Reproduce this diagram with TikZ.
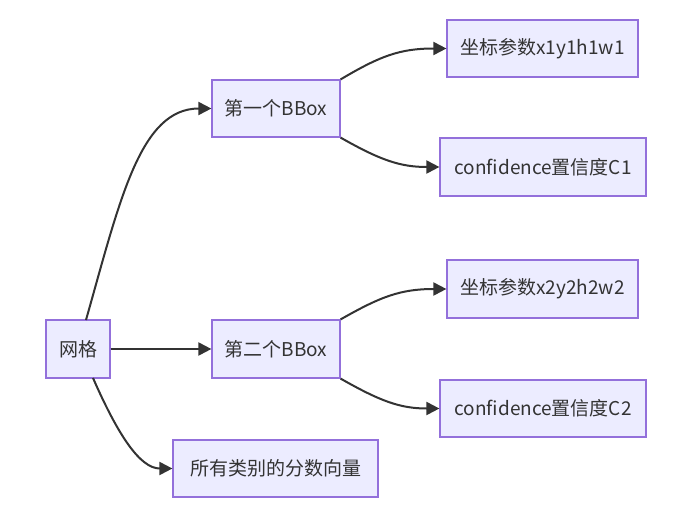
\documentclass[tikz,border=0pt]{standalone}
\usepackage{fontspec}
\setmainfont{Noto Sans CJK SC}
\usetikzlibrary{arrows.meta}
\definecolor{boxfill}{HTML}{ECECFF}
\definecolor{boxline}{HTML}{9370DB}
\definecolor{edgecol}{HTML}{333333}
\begin{document}
\begin{tikzpicture}[x=1pt,y=-1pt,
  mbox/.style={draw=boxline,fill=boxfill,line width=1.2pt,inner sep=0pt,
    font=\fontsize{19}{22}\selectfont,text=edgecol},
  edge/.style={draw=edgecol,line width=2pt,-{Triangle[length=13pt,width=13pt]}}]
\useasboundingbox (0,0) rectangle (685,522);
\node[mbox,minimum width=64pt,minimum height=58pt] (grid) at (78,349) {网格};
\node[mbox,minimum width=128pt,minimum height=57pt] (b1) at (276,108.5) {第一个BBox};
\node[mbox,minimum width=128pt,minimum height=58pt] (b2) at (276,349) {第二个BBox};
\node[mbox,minimum width=191pt,minimum height=57pt] (c1) at (542.5,48.5) {坐标参数x1y1h1w1};
\node[mbox,minimum width=206pt,minimum height=58pt] (f1) at (543,167) {confidence置信度C1};
\node[mbox,minimum width=191pt,minimum height=58pt] (c2) at (542.5,289) {坐标参数x2y2h2w2};
\node[mbox,minimum width=206pt,minimum height=57pt] (f2) at (543,408.5) {confidence置信度C2};
\node[mbox,minimum width=205pt,minimum height=57pt] (cls) at (275.5,468.5) {所有类别的分数向量};
\coordinate (gt) at (86,320);
\coordinate (gb) at (93,378);
\draw[edge] (gt) .. controls (120,200) and (140,108.5) .. (b1.west);
\draw[edge] (grid.east) -- (b2.west);
\draw[edge] (gb) .. controls (118,435) and (140,468.5) .. (cls.west);
\draw[edge] (b1.north east) .. controls (380,56) and (400,48.5) .. (c1.west);
\draw[edge] (b1.south east) .. controls (380,160) and (400,167) .. (f1.west);
\draw[edge] (b2.north east) .. controls (380,297) and (400,289) .. (c2.west);
\draw[edge] (b2.south east) .. controls (380,401) and (400,408.5) .. (f2.west);
\end{tikzpicture}
\end{document}
